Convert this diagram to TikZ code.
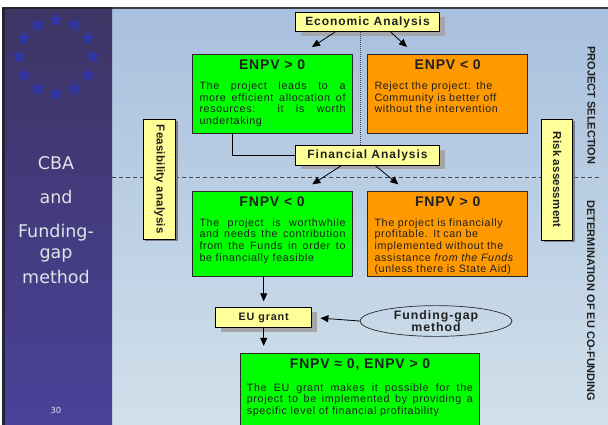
\documentclass[tikz,border=0pt]{standalone}
\usepackage{graphicx}
\usepackage{fontspec}
\setmainfont{Liberation Sans}
\newfontfamily\bodyfont{Liberation Sans}[LetterSpace=6]
\newfontfamily\titlefont{Liberation Sans}[LetterSpace=6]
\newfontfamily\headfont{Liberation Sans}[LetterSpace=8]
\newfontfamily\sidefont{Liberation Sans}[LetterSpace=2]
\newfontfamily\panelfont{DejaVu Sans}
\usetikzlibrary{shapes.geometric,arrows.meta,shadows}

\definecolor{boxgreen}{RGB}{0,255,0}
\definecolor{boxorange}{RGB}{255,153,0}
\definecolor{tagyellow}{RGB}{255,255,153}
\definecolor{ink}{RGB}{32,32,32}
\definecolor{boxline}{RGB}{40,40,40}
\definecolor{bgtop}{RGB}{168,192,222}
\definecolor{bgbottom}{RGB}{209,224,234}
\definecolor{paneltop}{RGB}{61,53,99}
\definecolor{panelmid}{RGB}{46,56,142}
\definecolor{panelbottom}{RGB}{74,66,154}
\definecolor{starblue}{RGB}{48,54,165}
\definecolor{framedark}{RGB}{38,36,50}
\definecolor{topline}{RGB}{60,62,75}
\definecolor{shadowgray}{RGB}{165,165,170}
\definecolor{sidegray}{RGB}{125,125,135}
\definecolor{paneltext}{RGB}{225,225,232}
\definecolor{sepgray}{RGB}{70,70,80}

\begin{document}
\begin{tikzpicture}[x=1pt,y=-1pt,
  resultbox/.style={draw=boxline, line width=0.8pt, inner sep=0pt, anchor=north west},
  greenbox/.style={resultbox, fill=boxgreen},
  orangebox/.style={resultbox, fill=boxorange},
  headtext/.style={font=\titlefont\bfseries\fontsize{14}{16}\selectfont, text=ink, inner sep=0pt},
  bodytext/.style={font=\bodyfont\fontsize{10.7}{11.65}\selectfont, text=ink, inner sep=0pt, anchor=north west},
  tagbox/.style={draw=black, line width=0.8pt, fill=tagyellow, inner sep=0pt, text=ink,
    font=\headfont\bfseries\fontsize{12}{14}\selectfont,
    drop shadow={shadow xshift=5.5pt, shadow yshift=-4.5pt, fill=shadowgray, opacity=1}},
  sidetag/.style={draw=black, line width=0.8pt, fill=tagyellow, inner sep=0pt, text=ink,
    font=\sidefont\bfseries\fontsize{11.5}{13}\selectfont,
    drop shadow={shadow xshift=2pt, shadow yshift=-2pt, fill=sidegray, opacity=1}},
  phaselabel/.style={rotate=-90, inner sep=0pt, text=ink, font=\bfseries\fontsize{11}{13}\selectfont},
  paneltxt/.style={anchor=base, inner sep=0pt, text=paneltext, font=\panelfont\fontsize{17.5}{20}\selectfont},
  flowarrow/.style={draw=black, line width=0.8pt, -{Triangle[length=8pt,width=7pt]}},
  plainline/.style={draw=black, line width=0.8pt},
  sepline/.style={draw=sepgray, line width=0.8pt, dash pattern=on 4pt off 3pt},
  midline/.style={draw=sepgray, line width=0.6pt, dash pattern=on 1pt off 1pt}
]
\path[use as bounding box, clip] (0,0) rectangle (608,425);
\fill[white] (0,0) rectangle (608,425);

% slide background and side panel
\shade[top color=bgtop, bottom color=bgbottom] (112,7.3) rectangle (608,425);
\fill[topline] (112,7.3) rectangle (608,9.3);
\fill[framedark] (2,7.3) rectangle (112,425);
\shade[top color=paneltop, middle color=panelmid, bottom color=panelbottom] (5,10) rectangle (112,425);

% ring of twelve five-pointed stars
\foreach \i in {0,...,11} {
  \coordinate (star\i) at ({56+37*cos(90+30*\i)},{57-37*sin(90+30*\i)});
  \fill[starblue] ([shift={(90:7.6pt)}]star\i) -- ([shift={(126:3.4pt)}]star\i)
    -- ([shift={(162:7.6pt)}]star\i) -- ([shift={(198:3.4pt)}]star\i)
    -- ([shift={(234:7.6pt)}]star\i) -- ([shift={(270:3.4pt)}]star\i)
    -- ([shift={(306:7.6pt)}]star\i) -- ([shift={(342:3.4pt)}]star\i)
    -- ([shift={(18:7.6pt)}]star\i) -- ([shift={(54:3.4pt)}]star\i) -- cycle;
}

\node[paneltxt] (cba) at (56,170) {CBA};
\node[paneltxt] (andword) at (56,203.3) {and};
\node[paneltxt] (fundword) at (56,237.3) {Funding-};
\node[paneltxt] (gapword) at (56,258.3) {gap};
\node[paneltxt] (methodword) at (56,283.3) {method};
\node[inner sep=0pt, text=paneltext, font=\panelfont\fontsize{8.5}{10}\selectfont] (pagenum) at (56,410) {30};

% separator between the two phases
\coordinate (sepL) at (112,177.7);
\coordinate (sepR) at (600,177.7);
\draw[sepline] (sepL) -- (sepR);

% phase titles
\node[phaselabel] (selection) at (591.5,105.5) {PROJECT SELECTION};
\node[phaselabel] (cofunding) at (591,301) {DETERMINATION OF EU CO-FUNDING};

% side tags
\node[sidetag, minimum width=32.4pt, minimum height=120pt] (feas) at (159.5,179.3) {\rotatebox{-90}{Feasibility analysis}};
\node[sidetag, minimum width=31pt, minimum height=120.7pt] (risk) at (557.2,179.65) {\rotatebox{-90}{Risk assessment}};

% economic analysis stage
\node[tagbox, minimum width=143.6pt, minimum height=19.4pt] (econ) at (367.5,22) {Economic Analysis};

\node[greenbox, minimum width=160pt, minimum height=78.7pt] (enpvpos) at (191.7,54) {};
\node[headtext] (enpvposhead) at ([yshift=-10.3pt]enpvpos.north) {ENPV > 0};
\node[bodytext, text width=146pt, align=justify] (enpvposbody) at ([xshift=7.6pt,yshift=-27.5pt]enpvpos.north west)
  {The project leads to a\linebreak more efficient allocation of\linebreak resources: it is worth\linebreak undertaking};

\node[orangebox, minimum width=160pt, minimum height=78.7pt] (enpvneg) at (367.3,54) {};
\node[headtext] (enpvneghead) at ([yshift=-10.3pt]enpvneg.north) {ENPV < 0};
\node[bodytext, text width=150pt, align=left] (enpvnegbody) at ([xshift=7pt,yshift=-27.5pt]enpvneg.north west)
  {Reject the project: the\\Community is better off\\without the intervention};

% financial analysis stage
\node[tagbox, minimum width=143.6pt, minimum height=19.3pt] (fin) at (367.5,155.35) {Financial Analysis};

\node[greenbox, minimum width=160pt, minimum height=84.7pt] (fnpvneg) at (191.7,191) {};
\node[headtext] (fnpvneghead) at ([yshift=-10.6pt]fnpvneg.north) {FNPV < 0};
\node[bodytext, text width=146pt, align=justify] (fnpvnegbody) at ([xshift=7.6pt,yshift=-27.2pt]fnpvneg.north west)
  {The project is worthwhile\linebreak and needs the contribution\linebreak from the Funds in order to\linebreak be financially feasible};

\node[orangebox, minimum width=160pt, minimum height=84.7pt] (fnpvpos) at (367.3,191) {};
\node[headtext] (fnpvposhead) at ([yshift=-10.6pt]fnpvpos.north) {FNPV > 0};
\node[bodytext, text width=155pt, align=left] (fnpvposbody) at ([xshift=7pt,yshift=-27.2pt]fnpvpos.north west)
  {The project is financially\\profitable. It can be\\implemented without the\\assistance \textit{from the Funds}\\(unless there is State Aid)};

% co-funding stage
\node[tagbox, font=\headfont\bfseries\fontsize{10.8}{13}\selectfont, minimum width=96pt, minimum height=19.6pt] (eu) at (263.7,317.5) {EU grant};
\node[ellipse, draw=boxline, line width=0.7pt, minimum width=152pt, minimum height=28.5pt, inner sep=0pt,
  align=center, text=ink, font=\headfont\bfseries\fontsize{12.3}{12.7}\selectfont] (gapm) at (436,321) {Funding-gap\\method};

\node[greenbox, minimum width=239.3pt, minimum height=80pt] (final) at (240,353.3) {};
\node[headtext] (finalhead) at ([yshift=-11.7pt]final.north) {FNPV ≈ 0, ENPV > 0};
\node[bodytext, text width=226pt, align=justify] (finalbody) at ([xshift=6.7pt,yshift=-29.9pt]final.north west)
  {The EU grant makes it possible for the\linebreak project to be implemented by providing a\linebreak specific level of financial profitability};

% connectors
\draw[midline] ([xshift=-7.5pt]econ.south) -- ([xshift=-7.5pt]fin.north);
\coordinate (econtipL) at (312,47);
\coordinate (econtipR) at (407,47);
\draw[flowarrow] ([xshift=-32.5pt]econ.south) -- (econtipL);
\draw[flowarrow] ([xshift=23.2pt]econ.south) -- (econtipR);
\draw[plainline] ([xshift=-40pt]enpvpos.south) |- (fin.west);
\coordinate (fintipL) at (312.3,184.3);
\coordinate (fintipR) at (398.3,184.3);
\draw[flowarrow] ([xshift=-25.8pt]fin.south) -- (fintipL);
\draw[flowarrow] ([xshift=7.5pt]fin.south) -- (fintipR);
\draw[flowarrow, shorten >=6pt] (fnpvneg.south -| eu.north) -- (eu.north);
\draw[flowarrow, shorten >=7.5pt] (eu.south) -- (eu.south |- final.north);
\draw[flowarrow, shorten >=8.3pt] (gapm.west) -- (eu.east);
\end{tikzpicture}
\end{document}
